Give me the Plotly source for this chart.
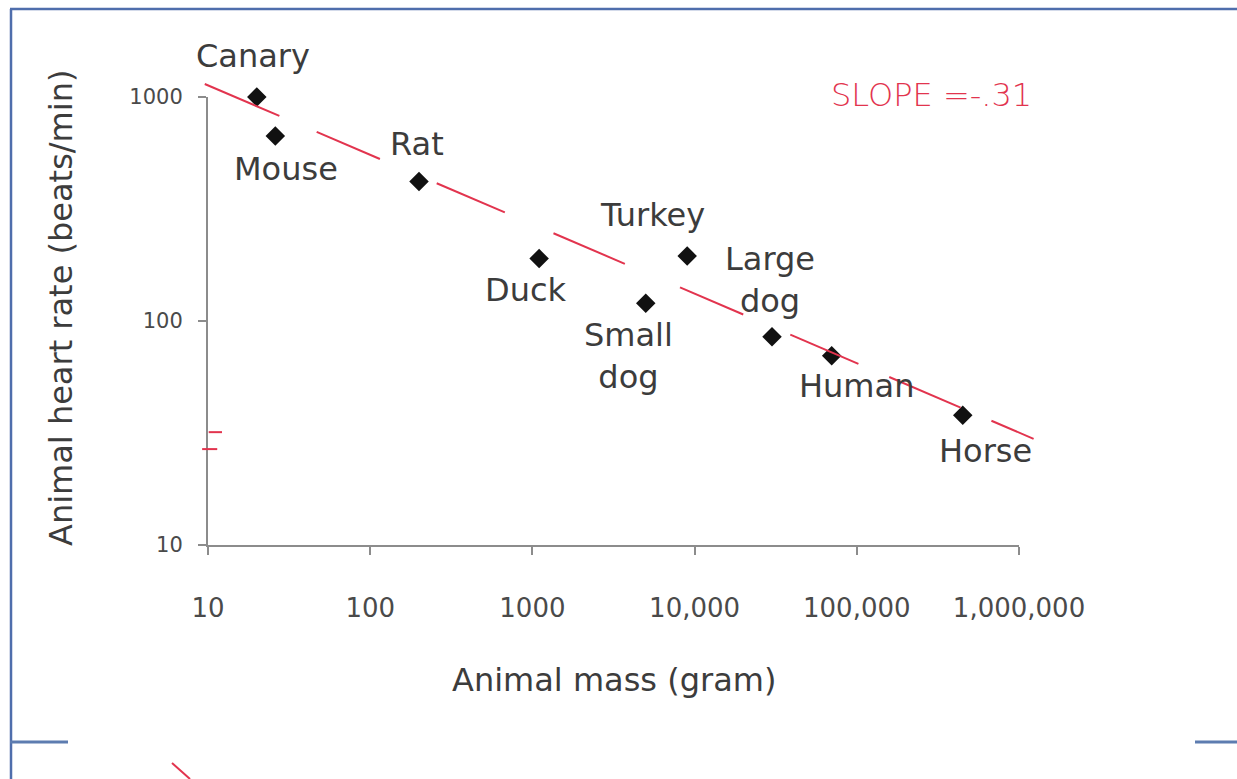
import numpy as np
import plotly.graph_objects as go

# ---- data -------------------------------------------------------------
animals = ["Canary", "Mouse", "Rat", "Duck", "Turkey",
           "Small<br>dog", "Large<br>dog", "Human", "Horse"]
mass_g = [20, 26, 200, 1100, 9000, 5000, 30000, 70000, 450000]
heart_rate = [1000, 670, 420, 190, 195, 120, 85, 70, 38]

x_tickvals = [10, 100, 1000, 10000, 100000, 1000000]
x_ticktext = ["10", "100", "1000", "10,000", "100,000", "1,000,000"]
y_tickvals = [10, 100, 1000]
y_ticktext = ["10", "100", "1000"]

# hand-drawn power-law fit: log10(rate) = intercept + slope * log10(mass)
fit_slope = -0.31
fit_intercept = 3.362
# pieces of the pen stroke, as log10(mass) intervals
fit_pieces = [(0.98, 1.44), (1.67, 2.06), (2.41, 2.83), (3.13, 3.57),
              (3.91, 4.30), (4.59, 5.01), (5.20, 5.64), (5.83, 6.09)]

# little pen marks next to the rate axis (mass range, rate)
pen_marks = [((10.1, 12.2), 31.9), ((9.2, 11.4), 26.8)]

slope_text = "SLOPE =-.31"

# ---- layout geometry (pixels of the 1237 x 779 page) ------------------
W, H = 1237, 779
X0_PX, X1_PX = 208, 1019        # mass 10 .. 1,000,000
Y0_PX, Y1_PX = 545, 97          # rate 10 .. 1000
x_dec = (X1_PX - X0_PX) / 5.0
y_dec = (Y0_PX - Y1_PX) / 2.0

label_shift = {                 # (dx, dy) in pixels, screen orientation
    "Canary": (-4, -41), "Mouse": (11, 33), "Rat": (-2, -37),
    "Duck": (-13, 31), "Turkey": (-35, -41), "Small<br>dog": (-17, 53),
    "Large<br>dog": (-2, -57), "Human": (25, 30), "Horse": (23, 36),
}

RED = "#e2344e"
TXT = "#3c3c3c"
AXIS = "#8c8c8c"
BLUE = "#4f6eac"
FONT = "DejaVu Sans"

fig = go.Figure()

# measured animals
fig.add_trace(go.Scatter(
    x=mass_g, y=heart_rate, mode="markers",
    marker=dict(symbol="diamond", size=15, color="#111111"),
    cliponaxis=False, showlegend=False, hoverinfo="skip",
))

# fitted line, drawn on a full-page pair of axes with the same scale
fx, fy = [], []
for a, b in fit_pieces:
    lx = np.array([a, b])
    fx += list(10 ** lx) + [None]
    fy += list(10 ** (fit_intercept + fit_slope * lx)) + [None]
fig.add_trace(go.Scatter(
    x=fx, y=fy, mode="lines", xaxis="x2", yaxis="y2",
    line=dict(color=RED, width=2), showlegend=False, hoverinfo="skip",
))

mx, my = [], []
for (m0, m1), r in pen_marks:
    mx += [m0, m1, None]
    my += [r, r, None]
fig.add_trace(go.Scatter(
    x=mx, y=my, mode="lines", xaxis="x2", yaxis="y2",
    line=dict(color=RED, width=2), showlegend=False, hoverinfo="skip",
))

# animal names
for name, m, r in zip(animals, mass_g, heart_rate):
    dx, dy = label_shift[name]
    fig.add_annotation(
        x=np.log10(m), y=np.log10(r), xref="x", yref="y",
        text=name, showarrow=False, xshift=dx, yshift=-dy,
        xanchor="center", yanchor="middle",
        font=dict(family=FONT, size=32, color=TXT),
    )

# axis titles
fig.add_annotation(x=614 / W, y=1 - 680 / H, xref="paper", yref="paper",
                   text="Animal mass (gram)", showarrow=False,
                   xanchor="center", yanchor="middle",
                   font=dict(family=FONT, size=32, color=TXT))
fig.add_annotation(x=61 / W, y=1 - 308 / H, xref="paper", yref="paper",
                   text="Animal heart rate (beats/min)", showarrow=False,
                   xanchor="center", yanchor="middle",
                   textangle=-90, font=dict(family=FONT, size=32, color=TXT))

# handwritten slope note
fig.add_annotation(x=931 / W, y=1 - 95 / H, xref="paper", yref="paper",
                   text=slope_text, showarrow=False,
                   xanchor="center", yanchor="middle",
                   font=dict(family=FONT, size=32, color=RED, weight=300))

# page border and stray pen stroke
shapes = [
    dict(type="line", x0=10 / W, x1=1, y0=1 - 9 / H, y1=1 - 9 / H,
         line=dict(color=BLUE, width=2.5)),
    dict(type="line", x0=11 / W, x1=11 / W, y0=1 - 9 / H, y1=0,
         line=dict(color=BLUE, width=2.5)),
    dict(type="line", x0=10 / W, x1=68 / W, y0=1 - 742 / H, y1=1 - 742 / H,
         line=dict(color="#5d7cb0", width=3)),
    dict(type="line", x0=1195 / W, x1=1, y0=1 - 742 / H, y1=1 - 742 / H,
         line=dict(color="#5d7cb0", width=3)),
    dict(type="line", x0=172 / W, x1=190 / W, y0=1 - 763 / H, y1=0,
         line=dict(color=RED, width=2)),
]
for s in shapes:
    s.update(xref="paper", yref="paper")

axis_common = dict(type="log", showgrid=False, zeroline=False,
                   automargin=False,
                   showline=True, linecolor=AXIS, linewidth=2,
                   ticks="outside", ticklen=8, tickwidth=2, tickcolor=AXIS)

fig.update_layout(
    width=W, height=H, autosize=False,
    margin=dict(l=0, r=0, t=0, b=0, pad=0),
    paper_bgcolor="white", plot_bgcolor="rgba(0,0,0,0)",
    showlegend=False,
    shapes=shapes,
    xaxis=dict(axis_common, range=[1, 6], anchor="y",
               domain=[X0_PX / W, X1_PX / W],
               tickvals=x_tickvals, ticktext=x_ticktext,
               tickfont=dict(family=FONT, size=26, color="#4a4a4a"),
               ticklabelstandoff=31),
    yaxis=dict(axis_common, range=[1, 3], anchor="x",
               domain=[1 - Y0_PX / H, 1 - Y1_PX / H],
               tickvals=y_tickvals, ticktext=y_ticktext,
               tickfont=dict(family=FONT, size=21, color="#4a4a4a"),
               ticklabelstandoff=11),
    xaxis2=dict(type="log", anchor="y2", visible=False, domain=[0, 1],
                automargin=False,
                range=[1 - X0_PX / x_dec, 1 + (W - X0_PX) / x_dec]),
    yaxis2=dict(type="log", anchor="x2", visible=False, domain=[0, 1],
                automargin=False,
                range=[1 - (H - Y0_PX) / y_dec, 3 + Y1_PX / y_dec]),
)

fig.write_html("out.html")
